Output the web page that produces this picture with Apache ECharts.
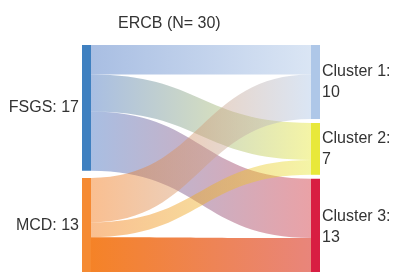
<!DOCTYPE html>
<html>
<head>
    <meta charset="utf-8" />
    <title>ERCB sankey</title>
    <script src="https://cdn.jsdelivr.net/npm/echarts@6/dist/echarts.min.js"></script>
    <style type="text/css">
        body { margin: 0; padding: 0; background: #fff; overflow: hidden; }
        #main { width: 395px; height: 272px; }
    </style>
</head>
<body>
    <div id="main"></div>
    <script type="text/javascript">
        // 数据
        var sourceNames = ['FSGS', 'MCD'];
        var targetNames = ['Cluster 1', 'Cluster 2', 'Cluster 3'];
        // 每行一个来源: 到 Cluster 1/2/3 的人数
        var fsgsCounts = [4, 5, 8];
        var mcdCounts = [6, 2, 5];
        var totalN = 30;

        // 颜色
        var nodeColors = {
            'FSGS': '#3f80c0',
            'MCD': '#f58a32',
            'Cluster 1': '#aec7e8',
            'Cluster 2': '#e8e83a',
            'Cluster 3': '#d81e42'
        };
        var linkEndColors = {
            'FSGS': '#3f6fc0',
            'MCD': '#f37109',
            'Cluster 1': '#aec7e8',
            'Cluster 2': '#e8e83a',
            'Cluster 3': '#d0303a'
        };

        var myChart = echarts.init(document.getElementById('main'));

        var nodes = [];
        sourceNames.forEach(function (n) {
            var item = {
                name: n,
                itemStyle: { color: nodeColors[n] },
                label: { position: 'left', distance: 3 }
            };
            // MCD 稍微往下放一点
            if (n === 'MCD') {
                item.localY = 0.578;
            }
            nodes.push(item);
        });
        targetNames.forEach(function (n) {
            nodes.push({
                name: n,
                itemStyle: { color: nodeColors[n] },
                label: { position: 'right', distance: 2 }
            });
        });

        var links = [];
        var counts = [fsgsCounts, mcdCounts];
        sourceNames.forEach(function (s, i) {
            targetNames.forEach(function (t, j) {
                // 最下面那条 MCD -> Cluster 3 颜色更深
                var strong = (s === 'MCD' && t === 'Cluster 3');
                links.push({
                    source: s,
                    target: t,
                    value: counts[i][j],
                    lineStyle: {
                        color: new echarts.graphic.LinearGradient(0, 0, 1, 0, [
                            { offset: 0, color: linkEndColors[s] },
                            { offset: 1, color: strong ? '#e57468' : linkEndColors[t] }
                        ]),
                        opacity: strong ? 0.88 : 0.45,
                        curveness: 0.5
                    }
                });
            });
        });

        var options = {
            animation: false,
            title: {
                text: 'ERCB (N= ' + totalN + ')',
                left: 113,
                top: 11,
                textStyle: {
                    fontFamily: 'Liberation Sans, Arial, sans-serif',
                    fontSize: 16,
                    fontWeight: 'normal',
                    color: '#333'
                }
            },
            series: [{
                type: 'sankey',
                left: 82,
                right: 75,
                top: 45,
                bottom: -3,
                nodeWidth: 9,
                nodeGap: 4,
                layoutIterations: 0,
                draggable: false,
                emphasis: { disabled: true },
                itemStyle: { borderWidth: 0 },
                label: {
                    fontFamily: 'Liberation Sans, Arial, sans-serif',
                    fontSize: 16,
                    lineHeight: 21,
                    color: '#333',
                    formatter: function (p) {
                        if (sourceNames.indexOf(p.name) >= 0) {
                            return p.name + ': ' + p.value;
                        }
                        return p.name + ':\n' + p.value;
                    }
                },
                data: nodes,
                links: links
            }]
        };
        myChart.setOption(options);
    </script>
</body>
</html>
